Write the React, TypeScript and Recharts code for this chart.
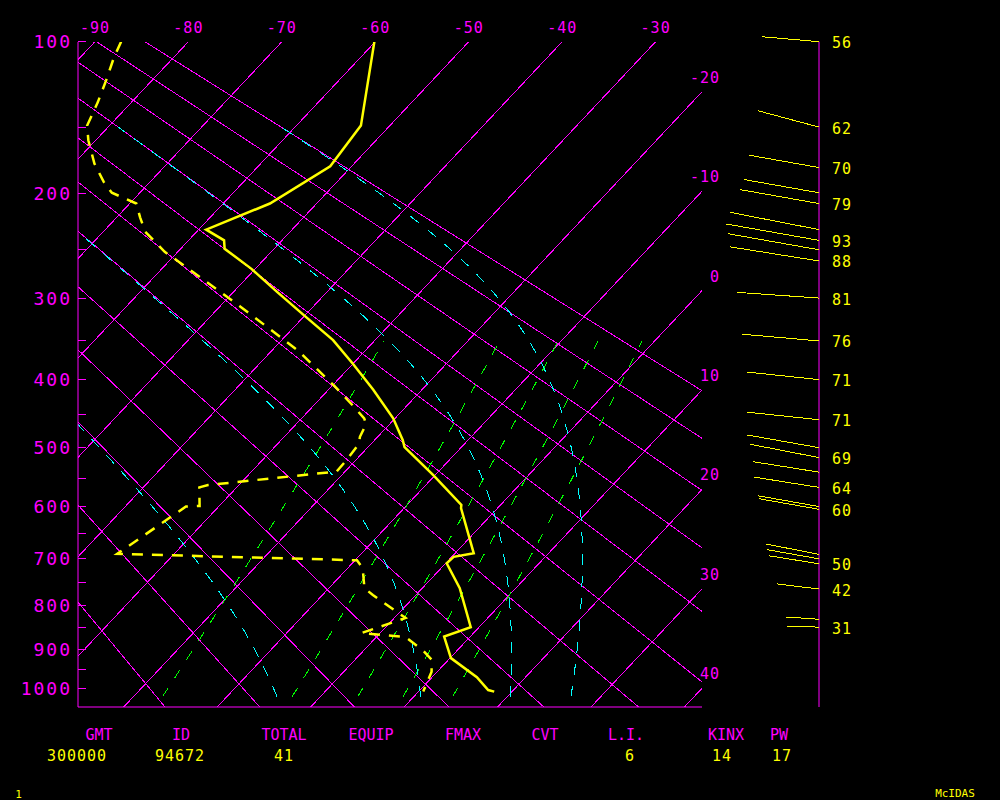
import React from "react";
import { ComposedChart, Line, XAxis, YAxis, ReferenceLine, ReferenceDot, Scatter } from "recharts";

// sounding: pressure (hPa) and temperature / dewpoint (°C)
const tempP = [100, 149, 178, 208, 231, 241, 249, 269, 293, 319, 349, 379, 414, 455, 488, 499, 545, 597, 603, 689, 696, 709, 761, 848, 870, 922, 970, 1003, 1007];
const tempT = [-60.1, -53.1, -52.3, -55.0, -59.2, -56.2, -55.3, -50.4, -45.4, -40.2, -34.5, -30.0, -25.2, -20.2, -17.0, -16.1, -10.2, -4.2, -3.9, 2.0, 0.2, 0.1, 4.0, 9.1, 7.2, 10.1, 14.8, 17.3, 18.1];

const dewP = [100, 108, 121, 134, 149, 159, 176, 190, 199, 208, 220, 233, 252, 263, 309, 362, 409, 437, 455, 464, 483, 494, 520, 539, 562, 566, 599, 600, 690, 703, 719, 761, 776, 827, 862, 871, 904, 926, 956, 1007];
const dewT = [-87.2, -86.4, -84.9, -83.6, -82.4, -80.8, -77.8, -75.0, -73.0, -69.3, -67.5, -65.5, -61.4, -58.6, -47.9, -37.2, -29.7, -25.7, -23.3, -22.5, -21.9, -21.3, -21.0, -20.9, -33.3, -34.0, -32.1, -33.5, -36.1, -9.8, -8.4, -6.2, -4.6, 1.2, -2.0, 3.1, 6.4, 8.2, 9.4, 10.5];

// winds: pressure (hPa), speed (kt), direction (deg), speed printed or not
const windP = [100, 150, 179, 199, 208, 231, 241, 250, 261, 300, 350, 400, 457, 500, 516, 540, 566, 600, 605, 691, 700, 710, 763, 830, 848];
const windSpd = [56, 62, 70, 75, 79, 89, 93, 91, 88, 81, 76, 71, 71, 72, 69, 66, 64, 61, 60, 53, 52, 50, 42, 32, 31];
const windDir = [275, 285, 280, 280, 280, 281, 280, 280, 279, 274, 275, 276, 276, 280, 281, 279, 279, 280, 280, 281, 280, 279, 277, 274, 272];
const windShown = [1, 1, 1, 0, 1, 0, 1, 0, 1, 1, 1, 1, 1, 0, 1, 0, 1, 0, 1, 0, 0, 1, 1, 0, 1];

// background lines of the diagram
const isotherms = [-90, -80, -70, -60, -50, -40, -30, -20, -10, 0, 10, 20, 30, 40];
const dryAdiabats = [-20, -10, 0, 10, 20, 30, 40, 50, 60, 70, 80, 90];
const moistAdiabats = [0, 30, 60, 90];
const mixingRatios = [1, 3, 5, 7, 10];
const pressureTicks = [100, 150, 200, 250, 300, 350, 400, 450, 500, 550, 600, 650, 700, 750, 800, 850, 900, 950, 1000];

// footer
const footLabels = ["GMT", "ID", "TOTAL", "EQUIP", "FMAX", "CVT", "L.I.", "KINX", "PW"];
const footValues = ["300000", "94672", "41", "6", "14", "17"];

const MAGENTA = "#ff00ff";
const YELLOW = "#ffff00";
const CYAN = "#00ffff";
const GREEN = "#00ff00";
const MONO = "'DejaVu Sans Mono', monospace";

// geometry: y ~ p^kappa, isotherms tilted
const KAPPA = 0.286;
const q = (p: number) => Math.pow(p, KAPPA);
const Q0 = q(100);
const PX_DEG = 9.345;
const PX_Q = 186.06;
const TILT = 0.94;
const X_ZERO = 936;
const Y_TOP = 41.7;
const SKEW = (TILT * PX_Q) / PX_DEG;
const THETA_SHIFT = 1;
const PLOT = { left: 78, top: 42, right: 702, bottom: 707 };
const WIND_X = 819;
const KT_PX = 1.02;

const sDomain = [(PLOT.left - X_ZERO) / PX_DEG, (PLOT.right - X_ZERO) / PX_DEG];
const qDomain = [Q0 + (PLOT.top - Y_TOP) / PX_Q, Q0 + (PLOT.bottom - Y_TOP) / PX_Q];

const pt = (t: number, p: number) => ({ x: t - SKEW * (q(p) - Q0), y: q(p) });

const isoLines = isotherms.map((t) => [pt(t, 60), pt(t, 1200)]);
const dryLines = dryAdiabats.map((th) => {
  const k = th + 273.15 + THETA_SHIFT;
  return [60, 1200].map((p) => pt(k * Math.pow(p / 1000, KAPPA) - 273.15, p));
});

const satVap = (tk: number) => 6.112 * Math.exp((17.67 * (tk - 273.15)) / (tk - 29.65));
const moistRate = (tk: number, p: number) => {
  const es = satVap(tk);
  const rs = (0.622 * es) / (p - es);
  const Rd = 287.04, Cp = 1005.7, Lv = 2.501e6;
  return (Rd * tk + Lv * rs) / (p * (Cp + (Lv * Lv * rs * 0.622) / (Rd * tk * tk)));
};
const moistLines = moistAdiabats.map((th) => {
  let p = 150;
  let tk = (th + 273.15 + THETA_SHIFT) * Math.pow(p / 1000, KAPPA);
  const out = [pt(tk - 273.15, p)];
  while (p < 1020) {
    const dp = 5;
    const k1 = moistRate(tk, p);
    const k2 = moistRate(tk + (k1 * dp) / 2, p + dp / 2);
    tk += k2 * dp;
    p += dp;
    out.push(pt(tk - 273.15, p));
  }
  return out.reverse();
});

const mixLines = mixingRatios.map((w) => {
  const out = [];
  for (let p = 1020; p >= 350; p -= 10) {
    const l = Math.log((w * p) / (622 + w) / 6.112);
    out.push(pt((243.5 * l) / (17.67 - l), p));
  }
  return out;
});

const tempData = tempP.map((p, i) => pt(tempT[i], p));
const dewData = dewP.map((p, i) => pt(dewT[i], p));
const windData = windP.map((p, i) => ({ x: 0, y: q(p), spd: windSpd[i], dir: windDir[i], shown: windShown[i] === 1 }));

const PressureTick = (props: any) => {
  const { x, y, payload } = props;
  const p = Math.round(Math.pow(payload.value, 1 / KAPPA));
  return (
    <g>
      <line x1={x} x2={x + 8} y1={y} y2={y} stroke={MAGENTA} shapeRendering="crispEdges" />
      {p % 100 === 0 && (
        <text x={x - 6} y={y} textAnchor="end" dominantBaseline="central" fill={MAGENTA} fontFamily={MONO} fontSize={18} letterSpacing={2}>
          {p}
        </text>
      )}
    </g>
  );
};

const EdgeLabel = (props: any) => {
  const { viewBox, text, dx, dy, anchor } = props;
  return (
    <text x={viewBox.x + dx} y={viewBox.y + dy} textAnchor={anchor} dominantBaseline="central" fill={MAGENTA} fontFamily={MONO} fontSize={15} letterSpacing={1}>
      {text}
    </text>
  );
};

const WindStick = (props: any) => {
  const { cx, cy, payload } = props;
  const a = ((payload.dir - 270) * Math.PI) / 180;
  const len = payload.spd * KT_PX;
  return (
    <g>
      <line x1={cx} y1={cy} x2={cx - len * Math.cos(a)} y2={cy - len * Math.sin(a)} stroke={YELLOW} shapeRendering="crispEdges" />
      {payload.shown && (
        <text x={cx + 13} y={cy + 1.5} dominantBaseline="central" fill={YELLOW} fontFamily={MONO} fontSize={15} letterSpacing={1}>
          {payload.spd}
        </text>
      )}
    </g>
  );
};

const line = (key: string, data: any[], stroke: string, extra: any = {}) => (
  <Line
    key={key}
    name={key}
    data={data}
    dataKey="y"
    stroke={stroke}
    strokeWidth={1}
    dot={false}
    activeDot={false}
    legendType="none"
    isAnimationActive={false}
    shapeRendering="crispEdges"
    {...extra}
  />
);

export default function App() {
  const footX = [99, 181, 284, 371, 463, 545, 626, 726, 779];
  const valueX = [77, 180, 284, 630, 722, 782];
  return (
    <div style={{ position: "absolute", left: 0, top: 0, width: 1000, height: 800, background: "#000" }}>
      <ComposedChart
        width={1000}
        height={800}
        margin={{ top: PLOT.top, right: 1000 - PLOT.right, bottom: 800 - PLOT.bottom, left: 0 }}
        style={{ position: "absolute", left: 0, top: 0 }}
      >
        <XAxis type="number" dataKey="x" domain={sDomain} allowDataOverflow hide />
        <YAxis
          type="number"
          domain={qDomain}
          reversed
          allowDataOverflow
          width={PLOT.left}
          ticks={pressureTicks.map(q)}
          interval={0}
          tickSize={0}
          tickMargin={0}
          tickLine={false}
          axisLine={{ stroke: MAGENTA }}
          tick={<PressureTick />}
        />
        <ReferenceLine y={qDomain[1]} stroke={MAGENTA} ifOverflow="visible" />
        {isoLines.map((d, i) => line(`iso${i}`, d, MAGENTA))}
        {dryLines.map((d, i) => line(`dry${i}`, d, MAGENTA))}
        {mixLines.map((d, i) => line(`mix${i}`, d, GREEN, { strokeDasharray: "10 12" }))}
        {moistLines.map((d, i) => line(`moist${i}`, d, CYAN, { strokeDasharray: "11 11" }))}
        {line("dewpoint", dewData, YELLOW, { strokeWidth: 2.5, strokeDasharray: "11 9", shapeRendering: "auto" })}
        {line("temperature", tempData, YELLOW, { strokeWidth: 2.5, shapeRendering: "auto" })}
        {isotherms
          .filter((t) => t <= -30)
          .map((t) => (
            <ReferenceDot key={`top${t}`} x={pt(t, 100).x} y={Q0} r={0} fill="none" stroke="none" ifOverflow="visible"
              label={<EdgeLabel text={String(t)} dx={0} dy={-13.5} anchor="middle" />} />
          ))}
        {isotherms
          .filter((t) => t > -30)
          .map((t) => (
            <ReferenceDot key={`side${t}`} x={sDomain[1]} y={Q0 + (t - sDomain[1]) / SKEW} r={0} fill="none" stroke="none" ifOverflow="visible"
              label={<EdgeLabel text={String(t)} dx={18} dy={-14} anchor="end" />} />
          ))}
      </ComposedChart>

      <ComposedChart
        width={1000}
        height={800}
        margin={{ top: Y_TOP, right: 0, bottom: 800 - PLOT.bottom, left: 0 }}
        style={{ position: "absolute", left: 0, top: 0 }}
      >
        <XAxis type="number" dataKey="x" domain={[-WIND_X, 1000 - WIND_X]} hide />
        <YAxis type="number" dataKey="y" domain={[Q0, qDomain[1]]} reversed hide />
        <ReferenceLine x={0} stroke={MAGENTA} />
        <Scatter data={windData} shape={<WindStick />} isAnimationActive={false} />
      </ComposedChart>

      <svg width={1000} height={800} style={{ position: "absolute", left: 0, top: 0, pointerEvents: "none" }}>
        {footLabels.map((s, i) => (
          <text key={s} x={footX[i]} y={735} textAnchor="middle" dominantBaseline="central" fill={MAGENTA} fontFamily={MONO} fontSize={15}>
            {s}
          </text>
        ))}
        {footValues.map((s, i) => (
          <text key={i} x={valueX[i]} y={755.5} textAnchor="middle" dominantBaseline="central" fill={YELLOW} fontFamily={MONO} fontSize={15} letterSpacing={1}>
            {s}
          </text>
        ))}
        <text x={18.5} y={794} textAnchor="middle" dominantBaseline="central" fill={YELLOW} fontFamily={MONO} fontSize={11}>1</text>
        <text x={955} y={793} textAnchor="middle" dominantBaseline="central" fill={YELLOW} fontFamily={MONO} fontSize={11}>McIDAS</text>
      </svg>
    </div>
  );
}
